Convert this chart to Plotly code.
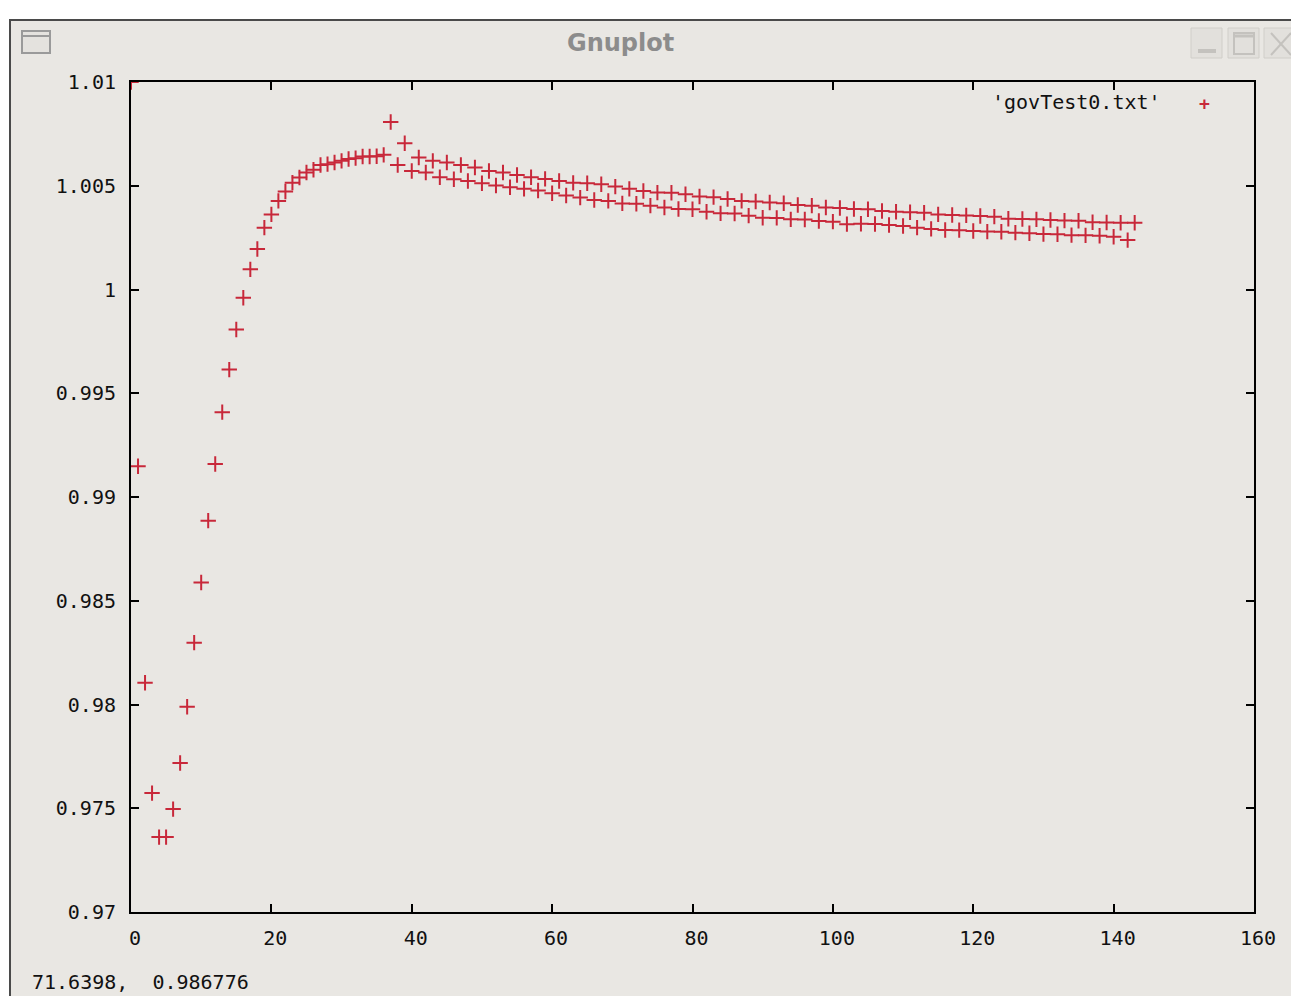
import plotly.graph_objects as go

# ---- data ----
x_values = list(range(0, 144))
y_values = [
    1.0100, 0.99148, 0.98105, 0.97573, 0.97361, 0.97361, 0.97496, 0.97718, 0.97989, 0.98298,
    0.98588, 0.98886, 0.99159, 0.99409, 0.99614, 0.99807, 0.99960, 1.00097, 1.00195, 1.00298,
    1.00362, 1.00427, 1.00472, 1.00515, 1.00540, 1.00564, 1.00577, 1.00600, 1.00604, 1.00612,
    1.00620, 1.00629, 1.00633, 1.00641, 1.00641, 1.00642, 1.00649, 1.00807, 1.00600, 1.00705,
    1.00571, 1.00636, 1.00564, 1.00620, 1.00541, 1.00612, 1.00531, 1.00600, 1.00523, 1.00588,
    1.00512, 1.00571, 1.00501, 1.00564, 1.00493, 1.00552, 1.00485, 1.00541, 1.00477, 1.00533,
    1.00464, 1.00523, 1.00453, 1.00514, 1.00443, 1.00512, 1.00431, 1.00507, 1.00427, 1.00496,
    1.00415, 1.00485, 1.00413, 1.00475, 1.00404, 1.00467, 1.00395, 1.00466, 1.00388, 1.00459,
    1.00387, 1.00448, 1.00375, 1.00445, 1.00367, 1.00436, 1.00366, 1.00427, 1.00356, 1.00424,
    1.00346, 1.00419, 1.00345, 1.00416, 1.00338, 1.00407, 1.00337, 1.00404, 1.00330, 1.00395,
    1.00327, 1.00393, 1.00315, 1.00388, 1.00317, 1.00387, 1.00316, 1.00378, 1.00311, 1.00375,
    1.00306, 1.00372, 1.00298, 1.00370, 1.00292, 1.00362, 1.00287, 1.00359, 1.00286, 1.00357,
    1.00282, 1.00354, 1.00279, 1.00351, 1.00278, 1.00341, 1.00274, 1.00340, 1.00271, 1.00338,
    1.00267, 1.00335, 1.00266, 1.00332, 1.00262, 1.00331, 1.00261, 1.00324, 1.00259, 1.00323,
    1.00254, 1.00322, 1.00238, 1.00322,
]
series_name = "'govTest0.txt'"

x_tick_values = [0, 20, 40, 60, 80, 100, 120, 140, 160]
x_tick_labels = ["0", "20", "40", "60", "80", "100", "120", "140", "160"]
y_tick_values = [0.97, 0.975, 0.98, 0.985, 0.99, 0.995, 1.0, 1.005, 1.01]
y_tick_labels = ["0.97", "0.975", "0.98", "0.985", "0.99", "0.995", "1", "1.005", "1.01"]

window_title = "Gnuplot"
status_text = "71.6398,  0.986776"

# ---- styling ----
OFF = 8  # page body margin of the html page
W, H = 1299 - OFF, 996 - OFF
L, R, T, B = 131, 1254, 82, 912   # plot frame, in screen pixels
PW, PH = R - L, B - T
BG = "#e9e7e3"
RED = "#c8283a"
MONO = "DejaVu Sans Mono"


def px(x):
    return (x - L) / PW


def py(y):
    return (B - y) / PH


fig = go.Figure()
fig.add_trace(go.Scatter(
    x=x_values, y=y_values, mode="markers", name=series_name,
    marker=dict(symbol="cross-thin", size=11, color=RED,
                line=dict(color=RED, width=2)),
    showlegend=False, cliponaxis=True,
))

shapes = [
    # window body
    dict(type="rect", xref="paper", yref="paper", x0=px(10), x1=px(1310), y0=py(1010), y1=py(20),
         fillcolor=BG, line=dict(color="#4a4a4a", width=2), layer="below"),
    # top-left window icon
    dict(type="rect", xref="paper", yref="paper", x0=px(22), x1=px(50), y0=py(53), y1=py(31),
         fillcolor="#e4e2de", line=dict(color="#9a9a9a", width=2), layer="below"),
    dict(type="line", xref="paper", yref="paper", x0=px(23), x1=px(49), y0=py(36), y1=py(36),
         line=dict(color="#9a9a9a", width=2), layer="below"),
]
# title bar buttons
for bx0, bx1 in [(1191, 1222), (1228, 1259), (1264, 1297)]:
    shapes.append(dict(type="rect", xref="paper", yref="paper", x0=px(bx0), x1=px(bx1),
                       y0=py(58), y1=py(28), fillcolor="#e2e0dc",
                       line=dict(color="#d0cec9", width=1), layer="below"))
# minimize bar
shapes.append(dict(type="rect", xref="paper", yref="paper", x0=px(1198), x1=px(1216),
                   y0=py(53), y1=py(49), fillcolor="#c4c2be", line=dict(width=0), layer="below"))
# maximize square
shapes.append(dict(type="rect", xref="paper", yref="paper", x0=px(1234), x1=px(1254),
                   y0=py(54), y1=py(33), fillcolor="rgba(0,0,0,0)",
                   line=dict(color="#c4c2be", width=2), layer="below"))
shapes.append(dict(type="line", xref="paper", yref="paper", x0=px(1234), x1=px(1254),
                   y0=py(36), y1=py(36), line=dict(color="#c4c2be", width=3), layer="below"))
# close X
shapes.append(dict(type="line", xref="paper", yref="paper", x0=px(1271), x1=px(1291),
                   y0=py(33), y1=py(55), line=dict(color="#c4c2be", width=2), layer="below"))
shapes.append(dict(type="line", xref="paper", yref="paper", x0=px(1291), x1=px(1271),
                   y0=py(33), y1=py(55), line=dict(color="#c4c2be", width=2), layer="below"))

annotations = [
    dict(text=window_title, xref="paper", yref="paper", x=px(620), y=py(43),
         xanchor="center", yanchor="middle", showarrow=False,
         font=dict(family="DejaVu Sans", size=24, color="#8c8c8c", weight="bold")),
    dict(text=series_name, xref="paper", yref="paper", x=px(1163), y=py(102),
         xanchor="right", yanchor="middle", showarrow=False,
         font=dict(family=MONO, size=20, color="#111111")),
    dict(text="+", xref="paper", yref="paper", x=px(1204), y=py(103),
         xanchor="center", yanchor="middle", showarrow=False,
         font=dict(family=MONO, size=18, color=RED, weight="bold")),
    dict(text=status_text, xref="paper", yref="paper", x=px(30), y=py(982),
         xanchor="left", yanchor="middle", showarrow=False,
         font=dict(family=MONO, size=20, color="#111111")),
]

axis_common = dict(
    showline=True, linecolor="black", linewidth=2, mirror="ticks",
    ticks="inside", ticklen=8, tickwidth=2, tickcolor="black",
    showgrid=False, zeroline=False,
    tickfont=dict(family=MONO, size=20, color="#111111"),
)

fig.update_layout(
    width=W, height=H,
    margin=dict(l=L - OFF, r=W - (R - OFF), t=T - OFF, b=H - (B - OFF), pad=0),
    paper_bgcolor="white", plot_bgcolor=BG,
    shapes=shapes, annotations=annotations,
    xaxis=dict(range=[0, 160], tickvals=x_tick_values, ticktext=x_tick_labels,
               ticklabelstandoff=7, ticklabelshift=4, **axis_common),
    yaxis=dict(range=[0.97, 1.01], tickvals=y_tick_values, ticktext=y_tick_labels,
               ticklabelstandoff=9, **axis_common),
)

fig.write_html("out.html")
